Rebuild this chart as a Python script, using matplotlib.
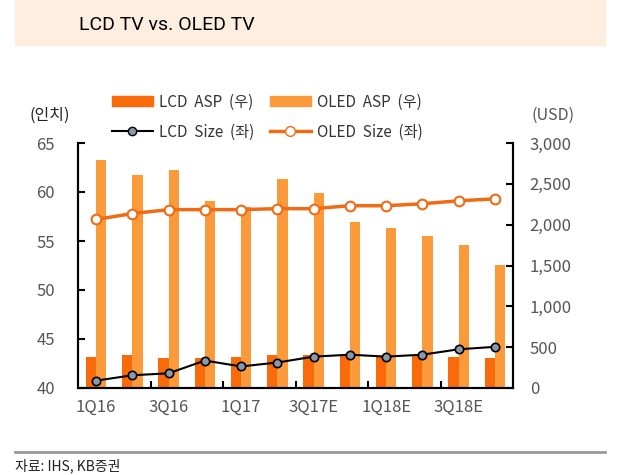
import matplotlib.pyplot as plt
import numpy as np
from matplotlib.lines import Line2D
from matplotlib.patches import Patch, Rectangle

plt.rcParams['font.family'] = ['Noto Sans CJK KR', 'DejaVu Sans']

quarters = ["1Q16", "2Q16", "3Q16", "4Q16", "1Q17", "2Q17",
            "3Q17E", "4Q17E", "1Q18E", "2Q18E", "3Q18E", "4Q18E"]
tick_labels = ["1Q16", "3Q16", "1Q17", "3Q17E", "1Q18E", "3Q18E"]

lcd_asp = [383, 408, 363, 363, 383, 408, 408, 390, 383, 395, 383, 363]
oled_asp = [2792, 2608, 2669, 2290, 2216, 2559, 2388, 2033, 1959, 1861, 1751, 1506]
lcd_size = [40.75, 41.3, 41.5, 42.8, 42.2, 42.6, 43.2, 43.4, 43.2, 43.4, 43.95, 44.2]
oled_size = [57.2, 57.8, 58.2, 58.2, 58.2, 58.3, 58.3, 58.6, 58.6, 58.8, 59.1, 59.3]

c_lcd = "#f96a0b"
c_oled = "#fb9a3b"
c_oled_line = "#ef6c16"
grey = "#555555"

fig = plt.figure(figsize=(6.3, 4.75), dpi=100)

# title band
fig.patches.append(Rectangle((15 / 630, 1 - 45 / 475), 590 / 630, 45 / 475,
                             transform=fig.transFigure, color="#fdeee0", zorder=0))
fig.text(79 / 630, 1 - 25 / 475, "LCD TV vs. OLED TV", fontsize=14, va="center",
         family=["Roboto", "DejaVu Sans"], color="black")

# footer
fig.add_artist(Line2D([15 / 630, 605 / 630], [1 - 452 / 475] * 2,
                      transform=fig.transFigure, color="#999999", lw=2))
fig.text(15 / 630, 1 - 466 / 475, "자료: IHS, KB증권", fontsize=10, va="center",
         color="#222222")

ax = fig.add_axes([78 / 630, 1 - 388 / 475, 435 / 630, 245 / 475])
ax2 = ax.twinx()

x = np.arange(len(quarters))
w = 0.28
ax2.bar(x - w / 2, lcd_asp, w, color=c_lcd, zorder=1)
ax2.bar(x + w / 2, oled_asp, w, color=c_oled, zorder=1)
ax2.set_ylim(0, 3000)
ax2.set_yticks(range(0, 3001, 500))
ax2.set_yticklabels([f"{v:,}" for v in range(0, 3001, 500)])

ax.set_zorder(ax2.get_zorder() + 1)
ax.patch.set_visible(False)
ax.plot(x, lcd_size, color="black", lw=1.5, marker="o", ms=6,
        mfc="#8a98aa", mec="black", mew=1.2)
ax.plot(x, oled_size, color=c_oled_line, lw=2.5, marker="o", ms=7,
        mfc="white", mec=c_oled_line, mew=1.5)
ax.set_ylim(40, 65)
ax.set_xlim(-0.5, len(quarters) - 0.5)
ax.set_yticks(range(40, 66, 5))
ax.set_xticks(x[::2])
ax.set_xticklabels(tick_labels)
ax.set_xticks(np.arange(1.5, len(quarters) - 0.5, 2), minor=True)

for a in (ax, ax2):
    a.spines["top"].set_visible(False)
    for s in ("left", "right", "bottom"):
        a.spines[s].set_linewidth(1.5)
    a.tick_params(labelsize=12, labelcolor=grey, direction="in", width=1.5, length=5)
ax.tick_params(axis="x", which="major", length=0, pad=8)
ax.tick_params(axis="x", which="minor", direction="in", length=5, width=1.5)
ax.tick_params(axis="y", pad=30)
ax2.tick_params(axis="y", pad=12)
for lab in ax.get_yticklabels():
    lab.set_horizontalalignment("left")

fig.text(50 / 630, 1 - 115 / 475, "(인치)", fontsize=11.5, ha="center", va="center", color="#222222")
fig.text(553 / 630, 1 - 115 / 475, "(USD)", fontsize=11.5, ha="center", va="center", color=grey)

handles = [
    Patch(color=c_lcd),
    Line2D([], [], color="black", lw=1.5, marker="o", ms=6, mfc="#8a98aa", mec="black"),
    Patch(color=c_oled),
    Line2D([], [], color=c_oled_line, lw=2.5, marker="o", ms=7, mfc="white", mec=c_oled_line),
]
labels = ["LCD  ASP  (우)", "LCD  Size  (좌)", "OLED  ASP  (우)", "OLED  Size  (좌)"]
fig.legend(handles, labels, ncol=2, loc="center left",
           bbox_to_anchor=(98 / 630, 1 - 117 / 475), frameon=False,
           fontsize=11, handlelength=2.7, handleheight=0.6, handletextpad=0.4,
           columnspacing=1.0, labelspacing=0.85, labelcolor="#333333")

fig.savefig("out.png", dpi=100)
